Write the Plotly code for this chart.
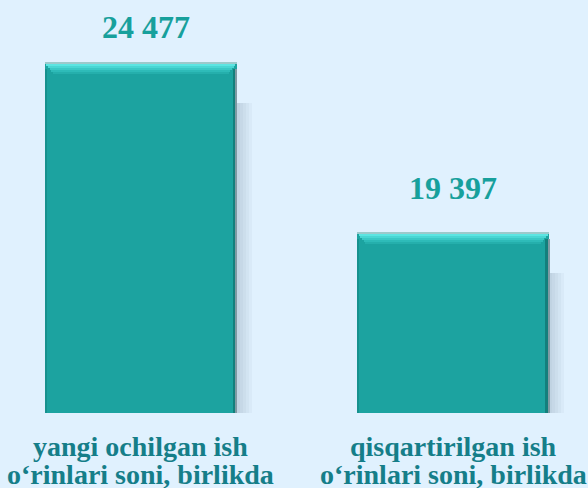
import plotly.graph_objects as go

cat_line1 = ["yangi ochilgan ish", "qisqartirilgan ish"]
cat_line2 = ["o‘rinlari soni, birlikda", "o‘rinlari soni, birlikda"]
values = [24477, 19397]
value_labels = ["24 477", "19 397"]

# label placement (style, pixels)
label_yshift = [16, 25]
label_xshift = [5, 0]

BG = "#E0F1FE"
BAR = "#1CA3A0"
VAL_COLOR = "#17A09C"
CAT_COLOR = "#157E89"
FONT = "Liberation Serif"

xs = list(range(len(values)))
n = len(values)
y0 = 14000
upp = 29.9        # data units per vertical pixel
px = 1 / 312.4    # category units per horizontal pixel
bw = 0.615

fig = go.Figure()


def add_bar(y, base, width, offset, color):
    fig.add_trace(go.Bar(
        x=xs, y=y, base=base, width=width, offset=offset,
        marker=dict(color=color, line=dict(width=0)),
        hoverinfo="skip", showlegend=False))


# soft shadow on the right side
for k in range(1, 6):
    add_bar([v - y0 - 40 * upp for v in values], [y0] * n,
            bw, -bw / 2 + 3 * k * px, "rgba(95,110,130,0.05)")

# main bars
fig.add_trace(go.Bar(
    x=xs, y=[v - y0 for v in values], base=[y0] * n, width=bw,
    marker=dict(color=BAR, line=dict(width=0)), showlegend=False))

# side bevels
add_bar([v - y0 - 6 * upp for v in values], [y0] * n, 2 * px, -bw / 2, "#17918E")
add_bar([v - y0 - 6 * upp for v in values], [y0] * n, 4 * px, bw / 2 - 4 * px, "#137F7C")
add_bar([v - y0 - 6 * upp for v in values], [y0] * n, 1 * px, bw / 2 - 1 * px, "#7F9AA3")

# top bevel (gradient layers, from bottom to top)
layers = [("#25AFAC", 11), ("#2EBBB8", 9), ("#3AC8C5", 7), ("#49D6D3", 5), ("#5CE5E2", 3)]
for j, (col, depth) in enumerate(layers):
    inset = (len(layers) - j) * 1.6 * px
    add_bar([2 * upp] * n, [v - depth * upp for v in values],
            bw - 2 * inset, -bw / 2 + inset, col)
add_bar([1 * upp] * n, [v - 1 * upp for v in values], bw, -bw / 2, "#9CC9CB")

annotations = []
for i, (v, t) in enumerate(zip(values, value_labels)):
    annotations.append(dict(
        x=i, y=v, xref="x", yref="y", text=f"<b>{t}</b>", showarrow=False,
        yanchor="bottom", yshift=label_yshift[i], xshift=label_xshift[i],
        font=dict(family=FONT, size=32, color=VAL_COLOR)))
for i, (l1, l2) in enumerate(zip(cat_line1, cat_line2)):
    annotations.append(dict(
        x=i, y=0, xref="x", yref="paper", text=f"<b>{l1}</b>", showarrow=False,
        yanchor="middle", yshift=-33,
        font=dict(family=FONT, size=28, color=CAT_COLOR)))
    annotations.append(dict(
        x=i, y=0, xref="x", yref="paper", text=f"<b>{l2}</b>", showarrow=False,
        yanchor="middle", yshift=-61,
        font=dict(family=FONT, size=28, color=CAT_COLOR)))

fig.update_layout(
    width=588, height=488,
    margin=dict(l=0, r=0, t=0, b=75),
    paper_bgcolor=BG, plot_bgcolor=BG,
    barmode="overlay", bargap=0,
    xaxis=dict(range=[-0.4507, 1.4315], visible=False, fixedrange=True),
    yaxis=dict(range=[y0, y0 + 413 * upp], visible=False, fixedrange=True),
    annotations=annotations,
)

fig.write_html("out.html", config={"displayModeBar": False},
               post_script="document.body.style.margin='0';document.body.style.background='" + BG + "';")
